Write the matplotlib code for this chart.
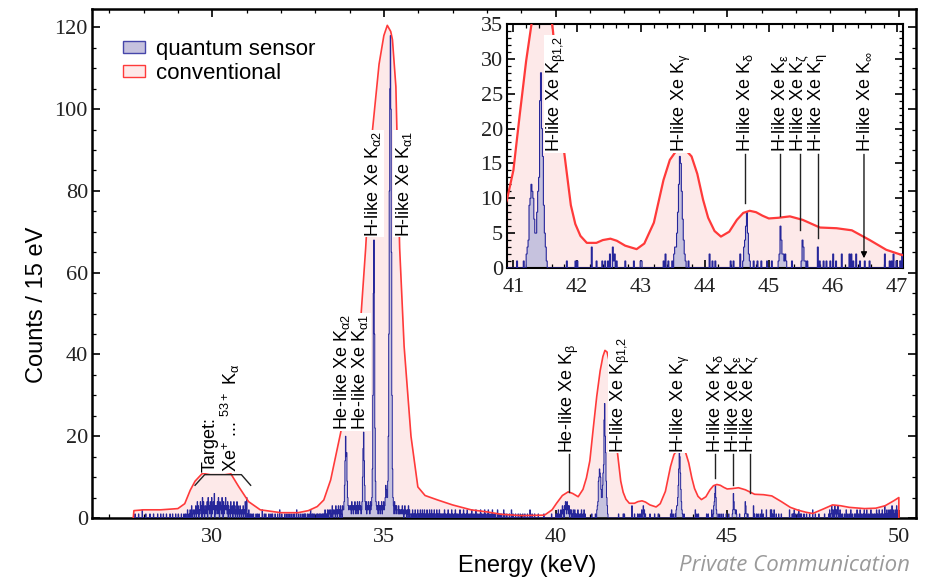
import numpy as np
import matplotlib
matplotlib.use("Agg")
import matplotlib.pyplot as plt
from matplotlib.patches import Patch
from matplotlib.ticker import MultipleLocator

plt.rcParams['font.family'] = ['Liberation Sans', 'DejaVu Sans']
plt.rcParams['mathtext.default'] = 'regular'

# quantum sensor histogram: 15 eV bins from 27.70 keV
bin_start = 27.70
bin_width = 0.015
# background counts, one row = 60 bins (0.9 keV)
noise_rows = [
    "0001000000 1000000200 0000100000 0010000001 0000000100 0001000010",  # 27.70
    "0000100000 0100001000 0010000100 0001000010 0100120010 2013012102",  # 28.60
    "1302413021 4230514203 3124052314 2051342603 1324153042 3152041325",  # 29.50
    "2314031204 2130241302 1403120312 0213021402 5010200100 1001000010",  # 30.40
    "0100100000 2000100100 0001000100 1000010000 1000200010 0000100010",  # 31.30
    "0010001000 1001000200 0100010001 0010100010 0100200101 0010001010",  # 32.20
    "0101001010 1020101201 2102013021 1203120231 2032103212 3213021323",  # 33.10
    "3231423132 4213241324 2315324213 3241324231 4253142342 3142314231",  # 34.00
    "3241324231 4231423142 3241321423 1322131212 2131201312 1021302110",  # 34.90
    "1020110201 0120101201 0210120110 2010120102 1010201102 0110201010",  # 35.80
    "1010201001 0201010020 1001020101 0010201001 0201001020 1001010200",  # 36.70
    "1001020010 0100201001 0020100102 0010010200 1001000201 0010010002",  # 37.60
    "0100010000 1000200100 0010000100 0100001000 1000010000 2000100001",  # 38.50
    "0000001000 0000000100 0000000000 0010000000 1001020010 2013120324",  # 39.40
    "3142313021 2010210201 0102010010 2001020100 0000000000 1000000100",  # 40.30
    "0000000000 0000000000 0000000000 0000000000 0010000000 0101000000",  # 41.20
    "0000000030 0001000001 0010010200 3120100000 0001000000 0010000001",  # 42.10
    "1000000000 0000000000 0001020010 0000000000 0000000001 0000000000",  # 43.00
    "0000000000 0200100100 0000000000 0001001000 0002001346 8521000100",  # 43.90
    "0100010000 0100001000 0001264221 2100000100 0000000143 1101000000",  # 44.80
    "0000301000 1001000100 2001000002 0000000202 0100200010 0001000010",  # 45.70
    "0000000000 0000200001 0102001000 1020010100 0010000100 0001000002",  # 46.60
    "0000100000 0100000000 0010000000 1021013201 2031202130 1020100100",  # 47.50
    "0100200100 1002001000 1010020010 0200100102 0010200100 1020010010",  # 48.40
    "1002010020 1010201003 0102010201 2013020102 1031020",                # 49.30
]
# strong lines: (energy of first bin, counts)
peak_bins = [
    (33.820, [2, 4, 8, 14, 20, 15, 16, 9, 5, 3, 2]),
    (34.350, [2, 4, 10, 17, 21, 14, 8, 4, 2]),
    (34.625, [3, 5, 12, 30, 55, 68, 45, 22, 9, 4, 3]),
    (35.020, [3, 5, 8, 7, 5]),
    (35.095, [5, 9, 20, 45, 80, 105, 118, 100, 65, 30, 12, 5, 3]),
    (41.200, [2, 3, 4, 9, 10, 12, 11, 10, 7, 5, 5, 8, 11, 13, 24, 28, 20, 16, 9, 5, 3, 1]),
    (43.480, [1, 0, 2, 3, 3, 5, 8, 12, 16, 15, 11, 7, 4, 2, 1]),
]

# conventional detector
conv_energy = [27.70, 27.72, 28.0, 28.5, 29.0, 29.2, 29.36, 29.5, 29.7, 30.0, 30.3, 30.53,
               30.77, 31.06, 31.4, 32.0, 32.5, 32.8, 33.06, 33.25, 33.45, 33.74, 34.13,
               34.33, 34.47, 34.58, 34.67, 34.86, 35.0, 35.1, 35.2, 35.25, 35.35, 35.46,
               35.59, 35.79, 35.99, 36.2, 36.57, 37.0, 37.54, 38.0, 38.42, 39.0, 39.68,
               39.9, 40.03, 40.2, 40.37, 40.5, 40.66, 40.8, 40.9, 41.0, 41.1, 41.2, 41.3,
               41.38, 41.44, 41.5, 41.56, 41.62, 41.7, 41.79, 41.9, 41.97, 42.05, 42.15,
               42.3, 42.4, 42.52, 42.62, 42.75, 42.93, 43.05, 43.2, 43.35, 43.45, 43.55,
               43.65, 43.72, 43.79, 43.88, 43.97, 44.05, 44.15, 44.25, 44.38, 44.5,
               44.6, 44.7, 44.8, 44.9, 45.0, 45.15, 45.33, 45.53, 45.8, 46.06, 46.3,
               46.58, 46.84, 47.07, 47.3, 47.49, 47.8, 48.07, 48.3, 48.56, 49.0, 49.33,
               49.6, 49.85, 50.0, 50.0]
conv_counts = [0, 1.8, 2.0, 2.0, 2.3, 3.5, 6.8, 9.0, 10.8, 11.3, 11.3, 11.0,
               7.7, 4.0, 2.0, 1.3, 1.3, 1.8, 2.8, 4.4, 9.3, 20.8, 38.6,
               49, 66, 82, 95, 111, 118, 120.5, 119, 117, 105.5, 66,
               42, 20, 7.6, 5.5, 4.4, 3.2, 2.0, 1.5, 0.9, 0.6, 0.7,
               2.0, 3.6, 5.5, 6.4, 6.0, 5.2, 7.0, 9.8, 14, 22, 29.7, 36,
               39.5, 41, 40.6, 38.5, 34, 26, 17, 9, 6.3, 4.6, 3.6,
               3.6, 4.0, 4.2, 3.9, 3.2, 2.7, 3.5, 6.5, 12.6, 15.5, 16.8,
               17.0, 16.7, 16, 13.5, 9.8, 7.2, 5.3, 4.5, 5.2, 6.9,
               7.9, 8.2, 8.0, 7.5, 7.1, 7.2, 7.4, 6.9, 5.8, 5.7, 5.4,
               4.0, 2.6, 1.9, 1.4, 1.1, 2.2, 3.2, 3.0, 2.6, 2.3, 2.4,
               3.0, 4.2, 5.0, 0]

# line labels: (energy, bottom of text, text, end of pointer line)
main_labels = [
    (33.78, 21.5, 'He-like Xe K$_{α2}$', None),
    (34.31, 21.5, 'He-like Xe K$_{α1}$', None),
    (34.68, 68.8, 'H-like Xe K$_{α2}$', None),
    (35.58, 68.8, 'H-like Xe K$_{α1}$', None),
    (40.39, 16.0, 'He-like Xe K$_{β}$', 6.4),
    (41.90, 16.0, 'H-like Xe K$_{β1{,}2}$', None),
    (43.64, 16.0, 'H-like Xe K$_{γ}$', None),
    (44.65, 16.0, 'H-like Xe K$_{δ}$', 9.8),
    (45.18, 16.0, 'H-like Xe K$_{ε}$', 8.1),
    (45.66, 16.0, 'H-like Xe K$_{ζ}$', 6.1),
    (29.94, 11.3, 'Target:', None),
    (30.53, 11.3, 'Xe$^{+}$ ... $^{53+}$ K$_{α}$', None),
]
inset_labels = [
    (41.68, 16.6, 'H-like Xe K$_{β1{,}2}$', None),
    (43.63, 16.6, 'H-like Xe K$_{γ}$', None),
    (44.62, 16.6, 'H-like Xe K$_{δ}$', 9.3),
    (45.18, 16.6, 'H-like Xe K$_{ε}$', 7.4),
    (45.49, 16.6, 'H-like Xe K$_{ζ}$', 5.45),
    (45.77, 16.6, 'H-like Xe K$_{η}$', 4.3),
    (46.49, 16.6, 'H-like Xe K$_{∞}$', 1.4),
]
target_bracket_x = [29.5, 29.78, 30.85, 31.12]
target_bracket_y = [8.0, 10.6, 10.6, 8.0]

red_line = '#ff3a3a'
red_fill = '#fde9e9'
blue_edge = '#26269a'
blue_fill = '#c6c2de'

counts = []
for row in noise_rows:
    counts += [int(d) for d in row.replace(" ", "")]
counts = np.array(counts, dtype=float)
for e0, vals in peak_bins:
    i0 = int(round((e0 - bin_start) / bin_width))
    counts[i0:i0 + len(vals)] = vals
edges = bin_start + bin_width * np.arange(len(counts) + 1)


def draw_spectra(ax, lw_red, lw_blue):
    ax.fill_between(conv_energy, conv_counts, color=red_fill, lw=0, zorder=1)
    ax.stairs(counts, edges, fill=True, color=blue_fill, zorder=2)
    ax.stairs(counts, edges, color=blue_edge, lw=lw_blue, zorder=3)
    ax.plot(conv_energy, conv_counts, color=red_line, lw=lw_red, zorder=4)


def draw_labels(ax, labels, fs, arrow_last=False):
    for i, (x, y, s, yl) in enumerate(labels):
        # labels sitting on the curves get a white box, the others a pointer
        box = dict(facecolor='white', edgecolor='none', pad=0.5) if yl is None else None
        ax.text(x, y, s, rotation=90, ha='center', va='bottom', fontsize=fs,
                color='black', zorder=7, bbox=box)
        if yl is None:
            continue
        if arrow_last and i == len(labels) - 1:
            ax.annotate('', xy=(x, yl), xytext=(x, y - 0.3),
                        arrowprops=dict(arrowstyle='-|>', color='black', lw=0.9,
                                        mutation_scale=9, shrinkA=0, shrinkB=0),
                        zorder=6)
        else:
            ax.plot([x, x], [y - 0.3, yl], color='#222222', lw=1.0, zorder=6)


def style_axes(ax, spine_w):
    for sp in ax.spines.values():
        sp.set_linewidth(spine_w)
    ax.tick_params(which='both', direction='in', top=True, right=True,
                   labelsize=16, labelfontfamily='Liberation Serif',
                   labelcolor='#222222')
    ax.tick_params(which='major', length=6, width=1.2)
    ax.tick_params(which='minor', length=3, width=0.9)
    ax.tick_params(axis='x', pad=7)
    ax.tick_params(axis='y', pad=3)


fig = plt.figure(figsize=(9.26, 5.8), dpi=100)
ax = fig.add_axes([0.0994, 0.1069, 0.8898, 0.8776])
draw_spectra(ax, 1.2, 0.7)
draw_labels(ax, main_labels, 13)
ax.plot(target_bracket_x, target_bracket_y, color='#222222', lw=1.0, zorder=6)
ax.set_xlim(26.5, 50.5)
ax.set_ylim(0, 124.5)
ax.xaxis.set_major_locator(MultipleLocator(5))
ax.xaxis.set_minor_locator(MultipleLocator(1))
ax.yaxis.set_major_locator(MultipleLocator(20))
ax.yaxis.set_minor_locator(MultipleLocator(5))
style_axes(ax, 1.8)
ax.set_xlabel('Energy (keV)', fontsize=17, ha='center', va='center')
ax.xaxis.set_label_coords(0.528, -0.094)
ax.set_ylabel('Counts / 15 eV', fontsize=17, ha='center', va='center')
ax.yaxis.set_label_coords(-0.067, 0.418)

handles = [Patch(facecolor=blue_fill, edgecolor='#4646aa', lw=1),
           Patch(facecolor=red_fill, edgecolor=red_line, lw=1)]
ax.legend(handles, ['quantum sensor', 'conventional'], loc='upper left',
          bbox_to_anchor=(0.037, 0.942), frameon=False, fontsize=16,
          handlelength=1.0, handleheight=0.45, handletextpad=0.5,
          labelspacing=0.15, borderpad=0, borderaxespad=0)

ins = fig.add_axes([0.5475, 0.538, 0.4276, 0.4207])
ins.set_facecolor('white')
draw_spectra(ins, 1.6, 0.8)
draw_labels(ins, inset_labels, 13, arrow_last=True)
ins.set_xlim(40.9, 47.1)
ins.set_ylim(0, 35)
ins.xaxis.set_major_locator(MultipleLocator(1))
ins.xaxis.set_minor_locator(MultipleLocator(0.2))
ins.yaxis.set_major_locator(MultipleLocator(5))
ins.yaxis.set_minor_locator(MultipleLocator(1))
style_axes(ins, 1.5)

fig.text(0.983, 0.025, 'Private Communication', ha='right', va='center',
         fontsize=16, color='#9a9a9a', style='italic', family='Open Sans')

fig.savefig('out.png', dpi=100)
